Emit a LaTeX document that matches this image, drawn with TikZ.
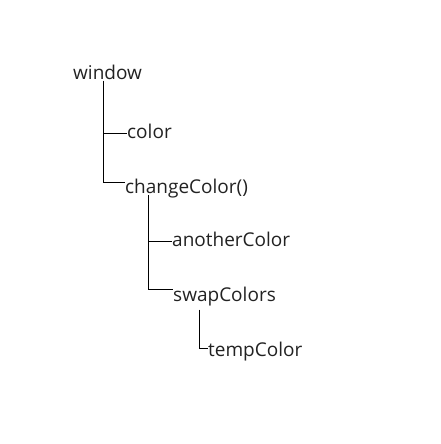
\documentclass[tikz,border=0pt]{standalone}
\usepackage{fontspec}
\setmainfont{Open Sans}
\usetikzlibrary{positioning, calc}
\definecolor{inkcolor}{HTML}{000000}
\definecolor{labeltext}{HTML}{222222}

\begin{document}
\begin{tikzpicture}[
  x=1pt, y=-1pt,
  every node/.style={font=\fontsize{19}{23}\selectfont},
]

\tikzset{
  member/.style={anchor=base west, inner sep=0pt, text=labeltext},
  branch/.style={draw=inkcolor, line width=0.9pt},
}

\useasboundingbox (0,0) rectangle (441,444);

% ---- members ----
\node[member] (window)       at (73,79)    {window};
\node[member] (color)        at (127,138)  {color};
\node[member] (changeColor)  at (125,193)  {changeColor()};
\node[member] (anotherColor) at (172,246)  {anotherColor};
\node[member] (swapColors)   at (173,301)  {swapColors};
\node[member] (tempColor)    at (208,356)  {tempColor};

% ---- trunks and joins ----
\coordinate (windowtrunk) at ([xshift=30.5pt, yshift=-1.5pt]window.base west);
\coordinate (changetrunk) at ([xshift=23.3pt, yshift=-2pt]changeColor.base west);
\coordinate (swaptrunk)   at ([xshift=26.3pt, yshift=-8.7pt]swapColors.base west);

\coordinate (colorjoin)   at ([yshift=4.7pt]color.base west);
\coordinate (changejoin)  at ([yshift=11pt]changeColor.base west);
\coordinate (anotherjoin) at ([yshift=4.3pt]anotherColor.base west);
\coordinate (swapjoin)    at ([yshift=11.3pt]swapColors.base west);
\coordinate (tempjoin)    at ([yshift=7.7pt]tempColor.base west);

\draw[branch] (windowtrunk) |- (changejoin);
\draw[branch] (windowtrunk |- colorjoin) -- (colorjoin);

\draw[branch] (changetrunk) |- (swapjoin);
\draw[branch] (changetrunk |- anotherjoin) -- (anotherjoin);

\draw[branch] (swaptrunk) |- (tempjoin);

\end{tikzpicture}
\end{document}
